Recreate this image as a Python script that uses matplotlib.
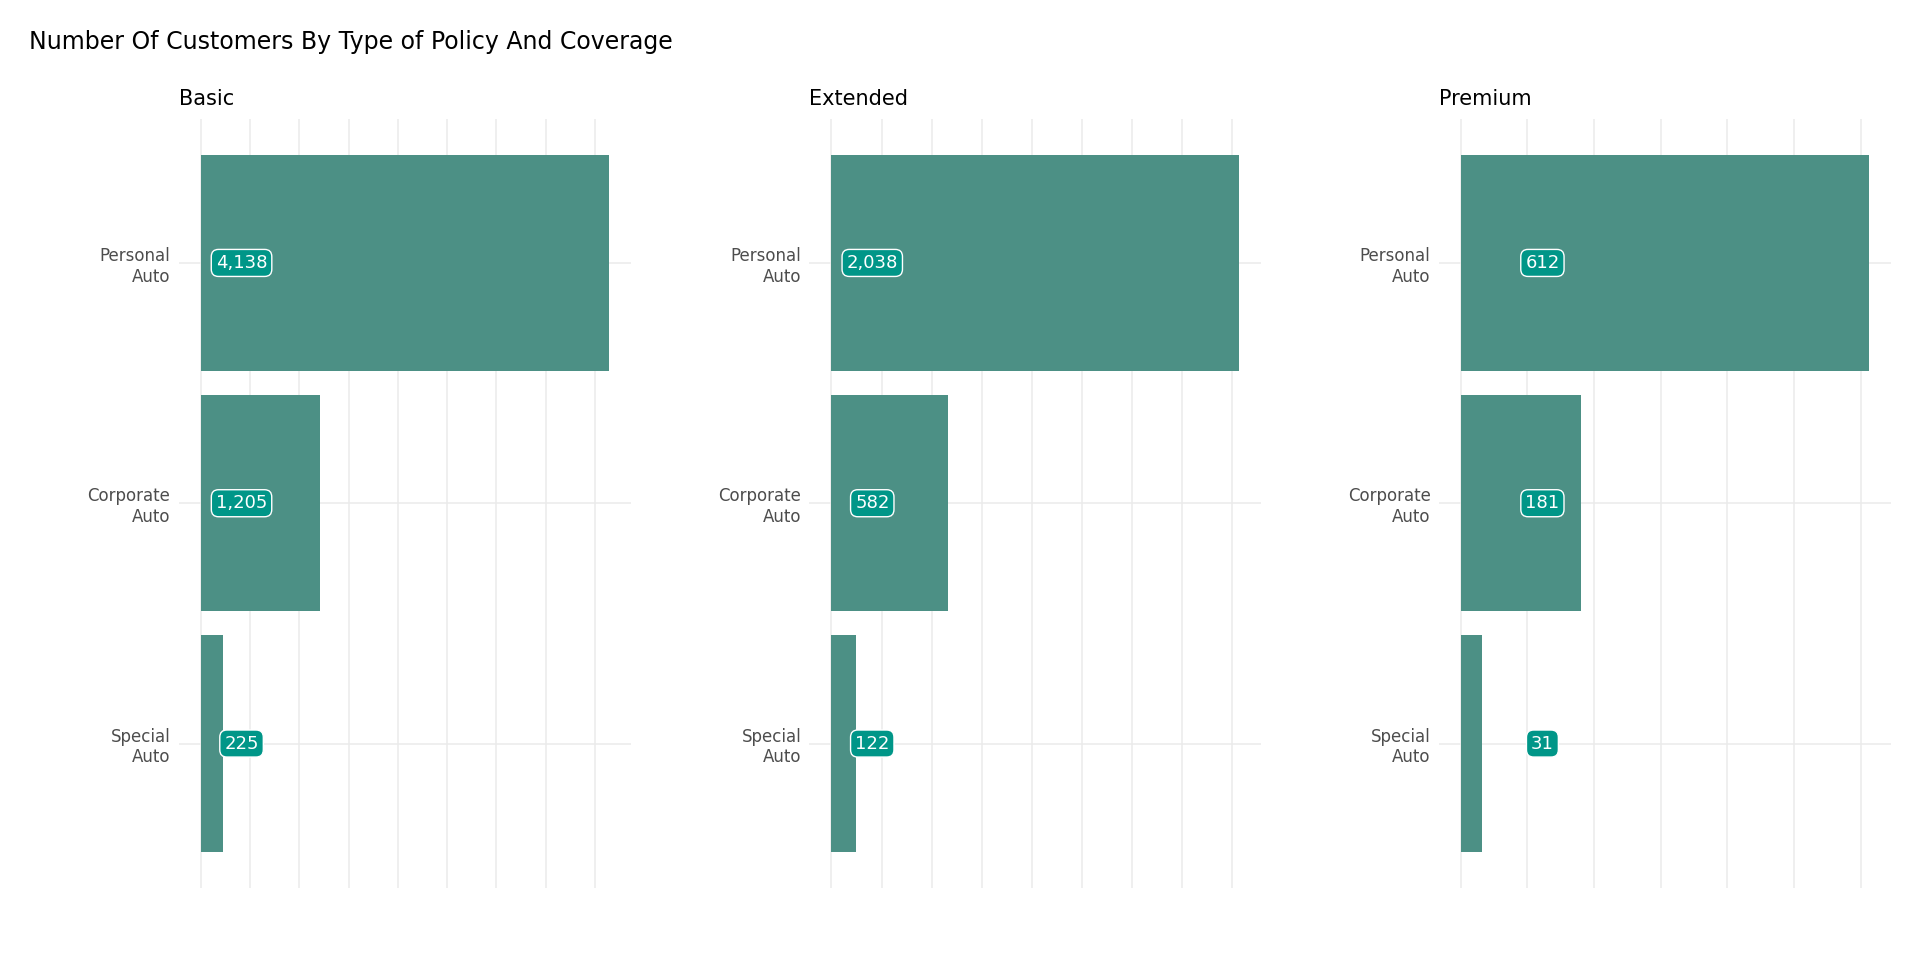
import matplotlib.pyplot as plt
from matplotlib.ticker import MultipleLocator

coverages = ['Basic', 'Extended', 'Premium']
policies = ['Personal\nAuto', 'Corporate\nAuto', 'Special\nAuto']
counts = {
    'Basic': [4138, 1205, 225],
    'Extended': [2038, 582, 122],
    'Premium': [612, 181, 31],
}
label_frac = {'Basic': 0.10, 'Extended': 0.10, 'Premium': 0.20}
minor_step = {'Basic': 500, 'Extended': 250, 'Premium': 100}

fig = plt.figure(figsize=(19.2, 9.6), dpi=100)
lefts = [0.0931, 0.4216, 0.7494]
for left, cov in zip(lefts, coverages):
    ax = fig.add_axes([left, 0.0753, 0.2353, 0.801])
    vals = counts[cov]
    M = max(vals)
    ypos = [3, 2, 1]
    ax.barh(ypos, vals, height=0.9, color='#4C9085', zorder=2)
    for y, v in zip(ypos, vals):
        ax.text(M * label_frac[cov], y, f'{v:,}', ha='center', va='center',
                color='white', fontsize=13, zorder=3,
                bbox=dict(boxstyle='round,pad=0.25,rounding_size=0.4',
                          fc='#009688', ec='white', lw=1))
    ax.set_xlim(-0.054 * M, 1.054 * M)
    ax.set_ylim(0.4, 3.6)
    ax.xaxis.set_major_locator(MultipleLocator(minor_step[cov]))
    ax.set_yticks(ypos)
    ax.set_yticklabels(policies, fontsize=12, color='#4D4D4D', ha='right',
                       multialignment='right')
    ax.tick_params(length=0, labelbottom=False, pad=6)
    ax.grid(True, color='#EBEBEB', lw=1.1, zorder=0)
    for s in ax.spines.values():
        s.set_visible(False)
    ax.set_title(cov, loc='left', fontsize=15, pad=10, x=-0.0)
    ax.title.set_position((-0.0, 1.0))

fig.text(0.0153, 0.969, 'Number Of Customers By Type of Policy And Coverage',
         fontsize=17, va='top', ha='left')
fig.savefig('out.png', dpi=100, facecolor='white')
